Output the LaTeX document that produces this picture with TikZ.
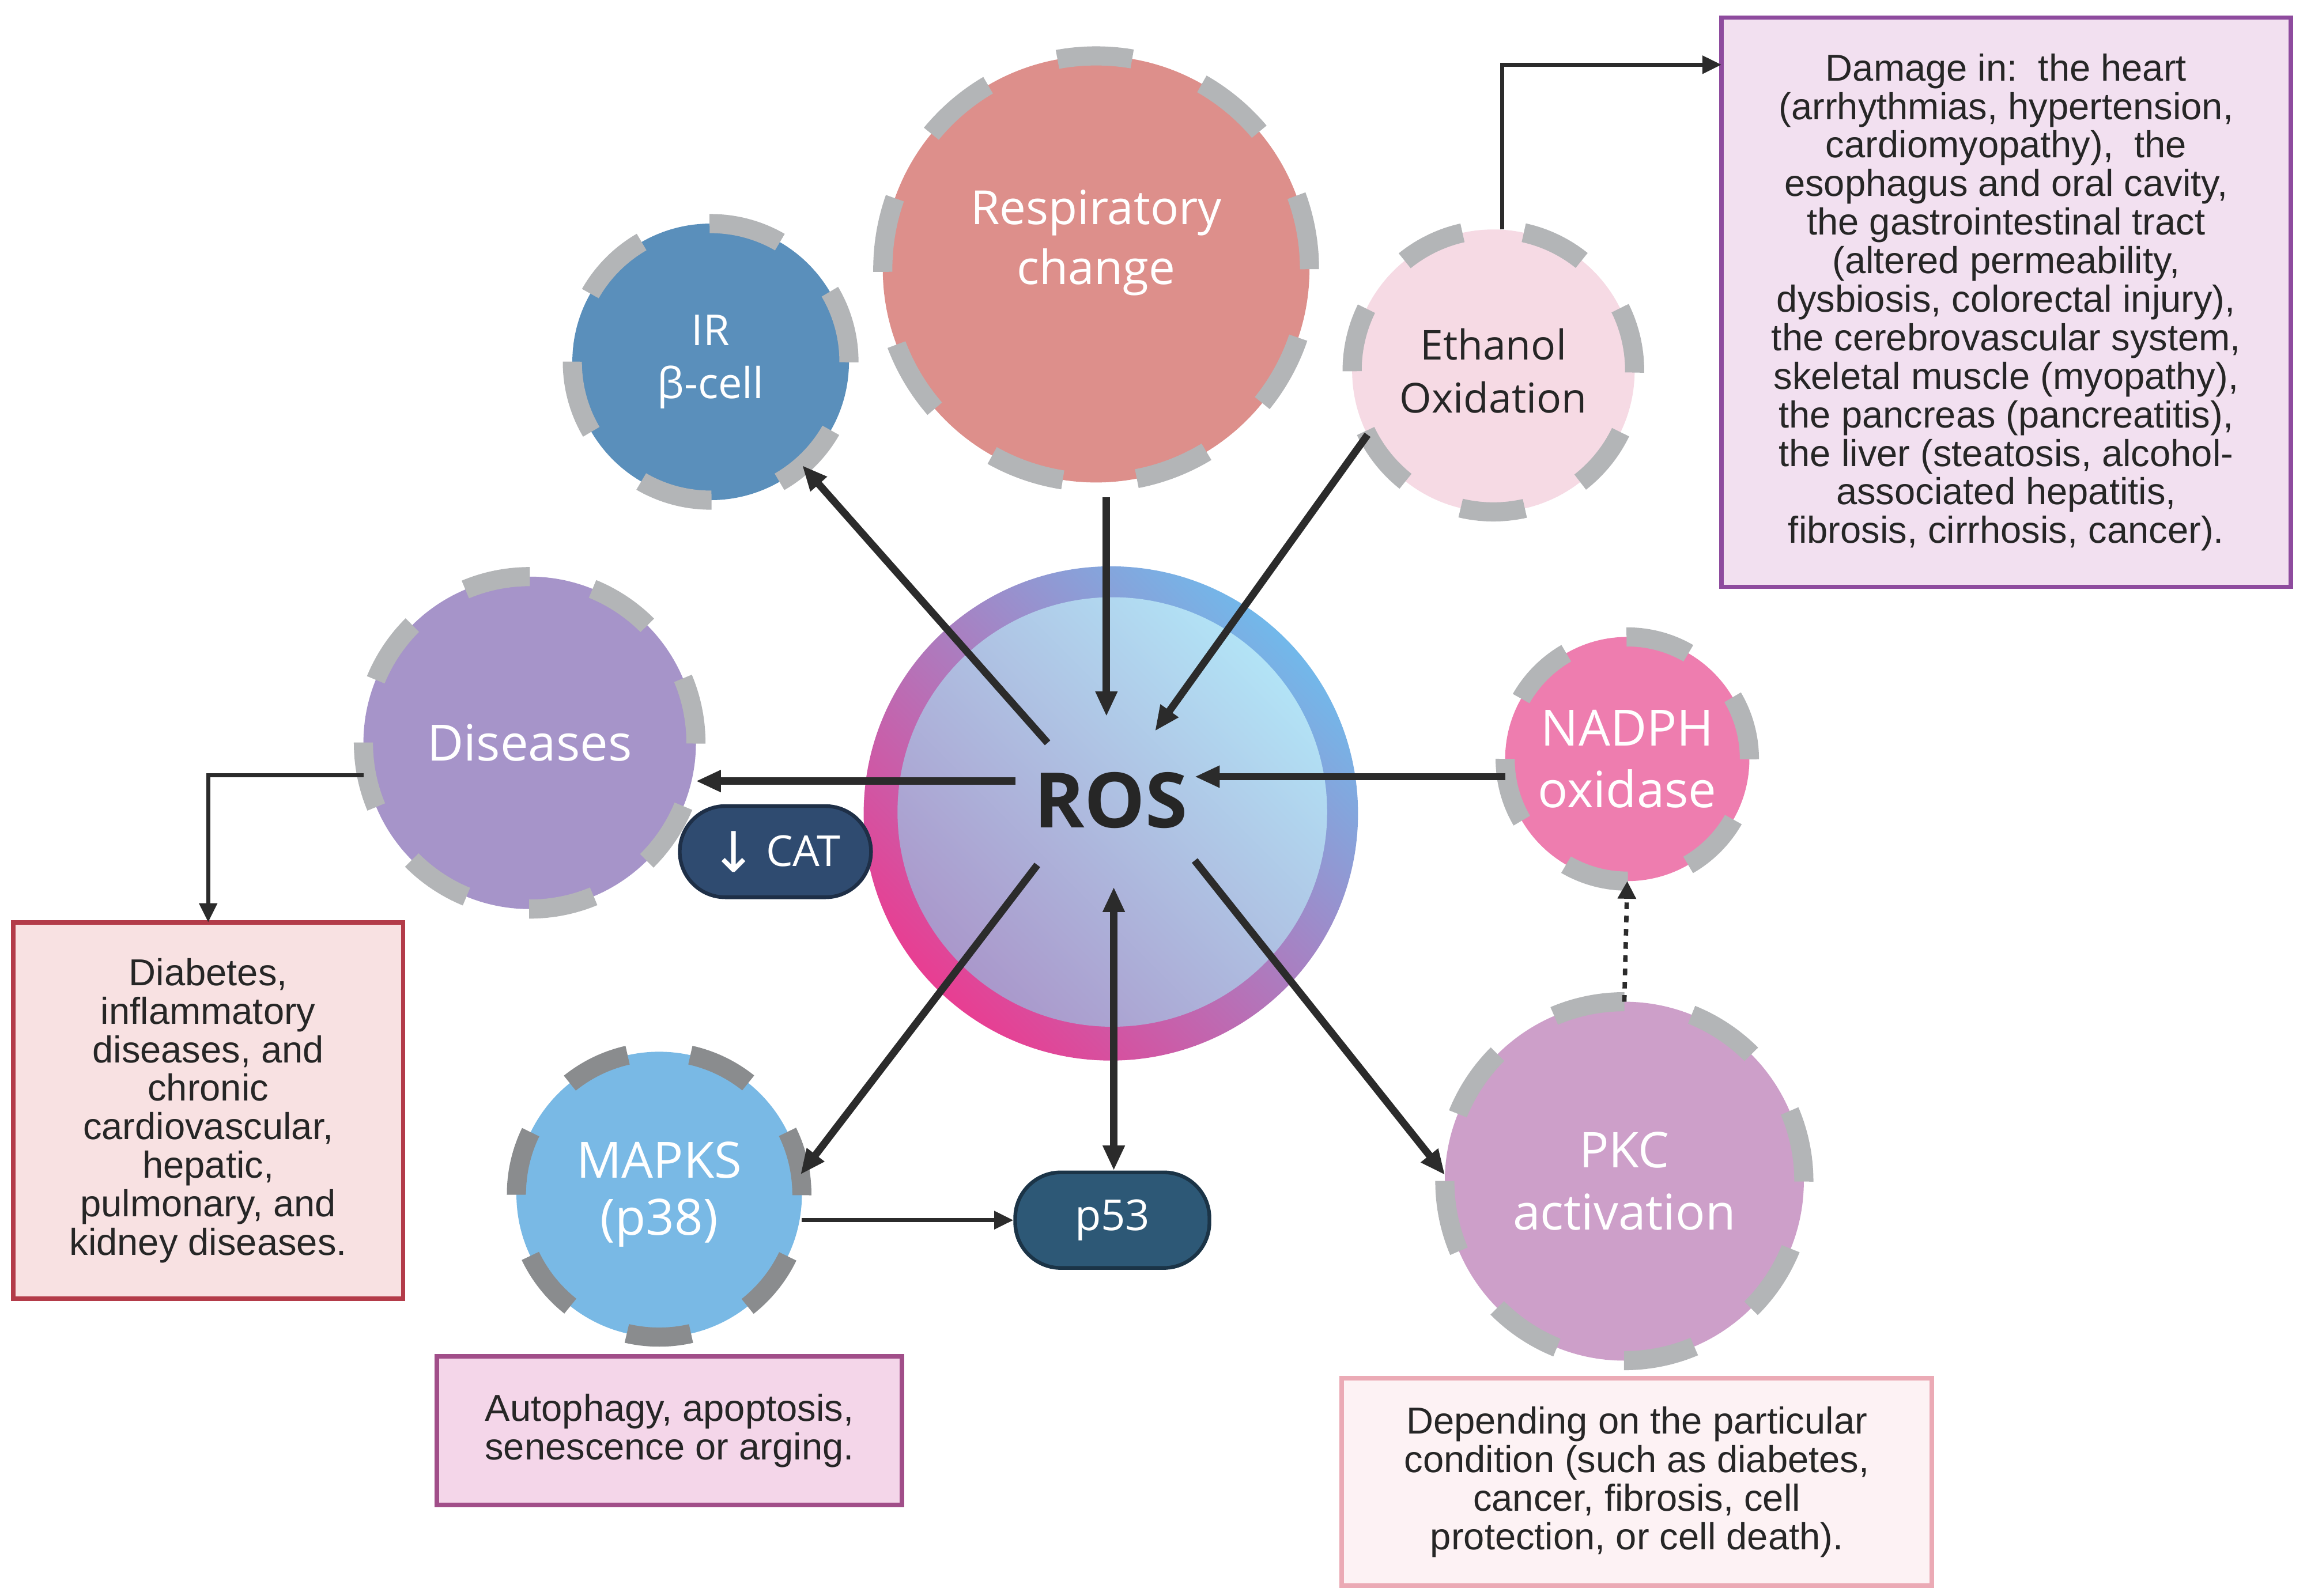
\documentclass[tikz,border=0pt]{standalone}
\usepackage{fontspec}
\setmainfont{Liberation Sans}
\newfontfamily\bubfont{Open Sans}
\newfontfamily\symfont{DejaVu Sans}
\usetikzlibrary{arrows.meta,calc}
\definecolor{arrc}{HTML}{2B2B2B}
\definecolor{txtc}{HTML}{262626}
\definecolor{dashc}{HTML}{B3B5B7}
\definecolor{dashd}{HTML}{8A8C8E}
\definecolor{respc}{HTML}{DD8F8B}
\definecolor{irc}{HTML}{5A8FBB}
\definecolor{ethc}{HTML}{F6DAE4}
\definecolor{disc}{HTML}{A694C9}
\definecolor{nadc}{HTML}{EE7DAF}
\definecolor{pkcc}{HTML}{CD9FC9}
\definecolor{mapc}{HTML}{79B9E5}
\definecolor{catc}{HTML}{2F4B70}
\definecolor{catd}{HTML}{1E2F47}
\definecolor{p53c}{HTML}{2D5876}
\definecolor{p53d}{HTML}{1B3447}
\definecolor{damf}{HTML}{F2E0F0}
\definecolor{damd}{HTML}{8E4B9E}
\definecolor{diaf}{HTML}{F8E1E2}
\definecolor{diad}{HTML}{B33B49}
\definecolor{autf}{HTML}{F4D6E9}
\definecolor{autd}{HTML}{A14E89}
\definecolor{depf}{HTML}{FDF2F4}
\definecolor{depd}{HTML}{EBAAB5}
\definecolor{rosblue}{HTML}{72B8EA}
\definecolor{rospurp}{HTML}{9B68BE}
\definecolor{rospink}{HTML}{E83E92}
\definecolor{rosinA}{HTML}{B2E3F6}
\definecolor{rosinB}{HTML}{BDB8DE}
\definecolor{rosinC}{HTML}{AA98CB}
\begin{document}
\begin{tikzpicture}[x=1pt,y=-1pt,
  bubble/.style={circle, inner sep=0pt, outer sep=0pt, draw=dashc, line width=13pt,
    text=white, align=center, font=\bubfont\fontsize{31}{40}\selectfont},
  bubtext/.style={text=white, align=center, inner sep=0pt, font=\bubfont\fontsize{32}{41}\selectfont},
  tbox/.style={rectangle, line width=3pt, align=center, text=txtc, inner sep=0pt, outer sep=0pt,
    font=\fontsize{25.5}{26.2}\selectfont},
  pill/.style={rectangle, rounded corners=31pt, line width=2.5pt, text=white, inner sep=0pt,
    font=\bubfont\fontsize{29}{30}\selectfont},
  conn/.style={draw=arrc, line width=5pt, -{Triangle[length=17pt,width=14pt]}},
  thinarr/.style={draw=arrc, line width=2.6pt, -{Triangle[length=13pt,width=12pt]}},
  dotarr/.style={draw=arrc, line width=3pt, dash pattern=on 4.5pt off 4.5pt, -{Triangle[length=12pt,width=12pt]}}
]
\useasboundingbox (0,0) rectangle (1568,1085);
\fill[white] (0,0) rectangle (1568,1085);

% ---- bubbles ----
\node[bubble, fill=respc, minimum size=290pt, dash pattern=on 51pt off 50.6pt] (resp) at (745,183) {};
\node[bubtext] (resptxt) at (745,165) {Respiratory\\change};

\node[bubble, fill=irc, minimum size=188pt, dash pattern=on 50pt off 48.4pt,
  font=\bubfont\fontsize{29}{36}\selectfont] (ir) at (483,246) {IR\\β-cell};

\node[bubble, fill=ethc, text=txtc, minimum size=192pt, dash pattern=on 44pt off 42pt,
  font=\bubfont\fontsize{28}{36}\selectfont] (eth) at (1015,252) {Ethanol\\Oxidation};

\node[bubble, fill=disc, minimum size=226pt, dash pattern=on 45pt off 43.7pt,
  font=\bubfont\fontsize{34}{40}\selectfont] (dis) at (360,505) {Diseases};

\node[bubble, fill=nadc, minimum size=166pt, dash pattern=on 44pt off 42.9pt,
  font=\bubfont\fontsize{34}{42}\selectfont] (nad) at (1106,516) {NADPH\\oxidase};

\node[bubble, fill=pkcc, minimum size=244pt, dash pattern=on 49pt off 46.8pt,
  font=\bubfont\fontsize{33.5}{42}\selectfont] (pkc) at (1104,803) {PKC\\activation};

\node[bubble, fill=mapc, draw=dashd, minimum size=194pt, dash pattern=on 44pt off 43pt,
  font=\bubfont\fontsize{34}{39}\selectfont] (map) at (448,812) {MAPKS\\(p38)};

% ---- ROS ----
\node[circle, inner sep=0pt, outer sep=0pt, minimum size=336pt,
  top color=rosblue, middle color=rospurp, bottom color=rospink, shading angle=-45] (ros) at (755,553) {};
\node[circle, inner sep=0pt, outer sep=0pt, minimum size=292pt,
  top color=rosinA, middle color=rosinB, bottom color=rosinC, shading angle=-45] (rosin) at (756,552) {};
\node[text=txtc, inner sep=0pt, font=\bubfont\bfseries\fontsize{52}{52}\selectfont] (rostxt) at (755,544) {ROS};

% ---- boxes ----
\node[tbox, draw=damd, fill=damf, minimum width=387pt, minimum height=387pt] (dam) at (1363.5,205.5)
 {Damage in:\ \ the heart\\(arrhythmias, hypertension,\\cardiomyopathy),\ \ the\\esophagus and oral cavity,\\the gastrointestinal tract\\(altered permeability,\\dysbiosis, colorectal injury),\\the cerebrovascular system,\\skeletal muscle (myopathy),\\the pancreas (pancreatitis),\\the liver (steatosis, alcohol-\\associated hepatitis,\\fibrosis, cirrhosis, cancer).};

\node[tbox, draw=diad, fill=diaf, minimum width=265pt, minimum height=256pt] (diab) at (141.5,755)
 {Diabetes,\\inflammatory\\diseases, and\\chronic\\cardiovascular,\\hepatic,\\pulmonary, and\\kidney diseases.};

\node[tbox, draw=autd, fill=autf, minimum width=316pt, minimum height=101pt] (aut) at (455,972.5)
 {Autophagy, apoptosis,\\senescence or arging.};

\node[tbox, draw=depd, fill=depf, minimum width=401pt, minimum height=141pt] (dep) at (1112.5,1007.5)
 {Depending on the particular\\condition (such as diabetes,\\cancer, fibrosis, cell\\protection, or cell death).};

% ---- connectors ----
\coordinate (irs) at ($(ros)+(-43,-48)$);
\coordinate (rtop) at ($(ros)+(-3,-66)$);
\coordinate (etip) at ($(ros)+(30,-56)$);
\coordinate (dst) at ($(ros)+(-65,-22)$);
\coordinate (ntip) at ($(ros)+(57,-25)$);
\coordinate (mst) at ($(ros)+(-50,35)$);
\coordinate (pst) at ($(ros)+(57,32)$);
\coordinate (qst) at ($(ros)+(2,50)$);

\draw[conn] (irs) -- (ir);
\draw[conn, shorten <=10pt] (rtop |- resp.south) -- (rtop);
\draw[conn] (eth.207) -- (etip);
\draw[conn] (dst) -- (dst -| dis.east);
\draw[conn] (ntip -| nad.west) -- (ntip);
\draw[conn] (mst) -- (map.8);
\draw[conn] (pst) -- (pkc.178);
\draw[dotarr] (pkc.north) -- (nad.south);
\draw[thinarr] ([yshift=-22pt]dis.west) -| (diab.north);
\draw[thinarr] ([xshift=6pt]eth.north) |- ($(dam.north west)+(0,32)$);

% ---- pills ----
\node[pill, fill=catc, draw=catd, minimum width=130pt, minimum height=62pt] (cat) at (527,579)
 {\raisebox{-4pt}{\symfont\fontsize{38}{38}\selectfont ↓}\hspace{6pt}CAT};
\node[pill, fill=p53c, draw=p53d, minimum width=132pt, minimum height=65pt] (p53) at (756,829.5) {p53};

\draw[conn, {Triangle[length=17pt,width=14pt]}-{Triangle[length=17pt,width=14pt]}] (qst) -- (qst |- p53.north);
\draw[thinarr] (p53.west -| map.east) -- (p53.west);
\end{tikzpicture}
\end{document}
